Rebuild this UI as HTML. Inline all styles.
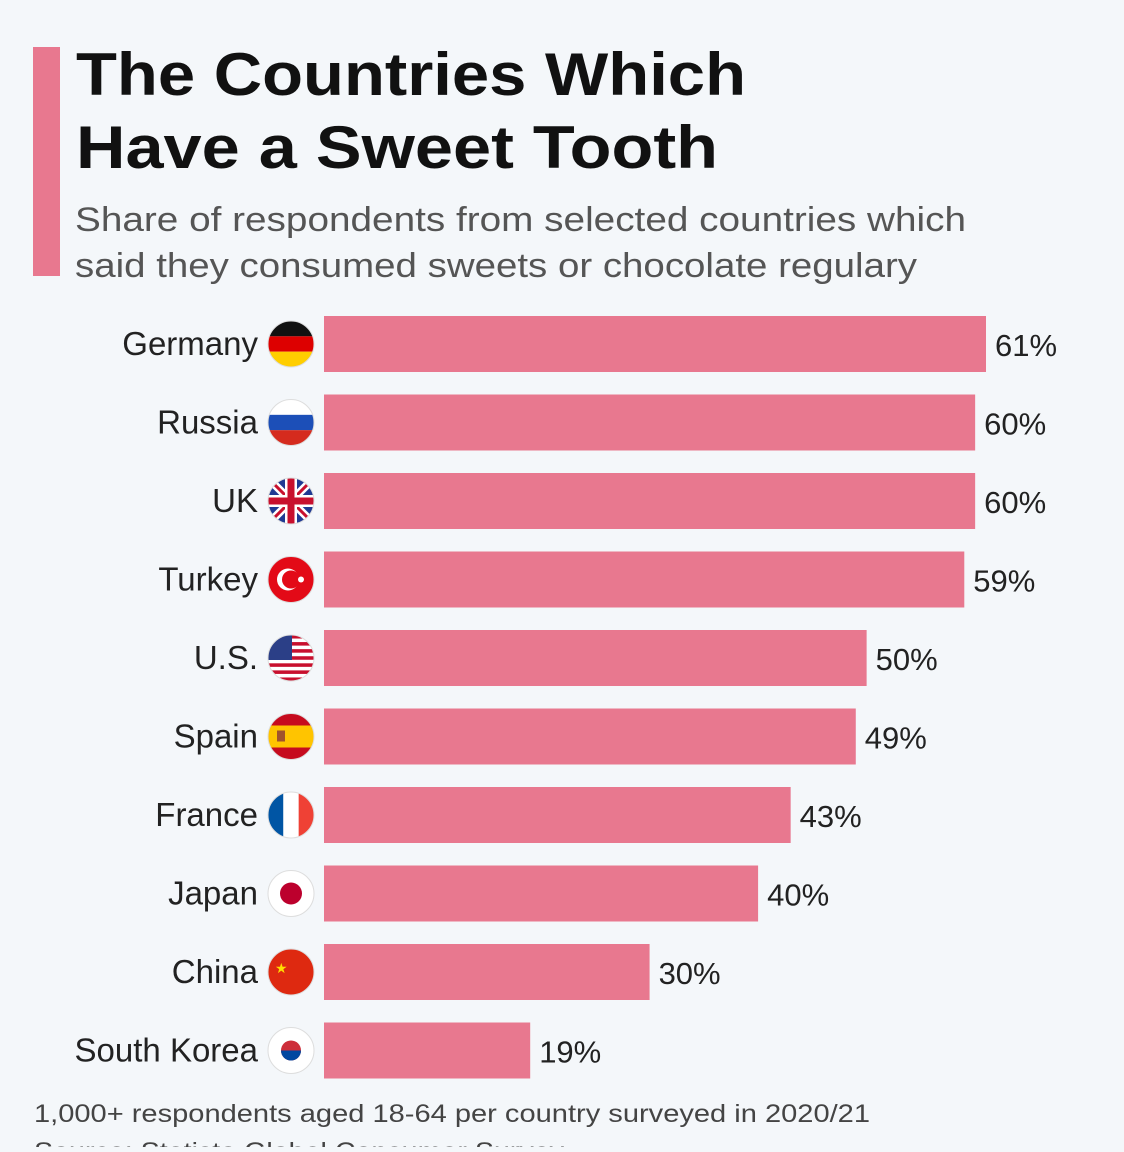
<!DOCTYPE html>
<html><head><meta charset="utf-8"><style>
body{margin:0;background:#f4f7fa;width:1124px;height:1147px;overflow:hidden;font-family:"Liberation Sans",sans-serif;}
</style></head><body>
<svg id="chart" width="1124" height="1147" xmlns="http://www.w3.org/2000/svg">
<rect x="0" y="0" width="1124" height="1147" fill="#f4f7fa"/>
<rect x="33" y="47" width="27" height="229" fill="#e8788f"/>
<text x="76" y="95" font-size="60" font-weight="bold" fill="#111" textLength="670" lengthAdjust="spacingAndGlyphs">The Countries Which</text>
<text x="76" y="168" font-size="60" font-weight="bold" fill="#111" textLength="642" lengthAdjust="spacingAndGlyphs">Have a Sweet Tooth</text>
<text x="75" y="231" font-size="34" fill="#555" textLength="891" lengthAdjust="spacingAndGlyphs">Share of respondents from selected countries which</text>
<text x="75" y="277" font-size="34" fill="#555" textLength="842" lengthAdjust="spacingAndGlyphs">said they consumed sweets or chocolate regulary</text>
<g id="bars"></g>
<text x="34" y="1122" font-size="25" fill="#444" textLength="836" lengthAdjust="spacingAndGlyphs">1,000+ respondents aged 18-64 per country surveyed in 2020/21</text>
<text x="34" y="1160" font-size="25" fill="#444" textLength="530" lengthAdjust="spacingAndGlyphs">Source: Statista Global Consumer Survey</text>
</svg>
<script>
const categories=["Germany","Russia","UK","Turkey","U.S.","Spain","France","Japan","China","South Korea"];
const values=[61,60,60,59,50,49,43,40,30,19];
const valueLabels=["61%","60%","60%","59%","50%","49%","43%","40%","30%","19%"];
const NS="http://www.w3.org/2000/svg";
const g=document.getElementById('bars');
const x0=324,pxPer=662/61,y0=316,step=78.5,bh=56;
function xs(v){return x0+v*pxPer;}
function ys(i){return y0+i*step;}
function mk(t,a,p){const e=document.createElementNS(NS,t);for(const k in a)e.setAttribute(k,a[k]);(p||g).appendChild(e);return e;}
const flags={
"Germany":(p,cx,cy)=>{const r=23;[["#111",0],["#dd0000",1],["#ffce00",2]].forEach(([c,k])=>mk('rect',{x:cx-r,y:cy-r+k*r*2/3,width:2*r,height:r*2/3,fill:c},p));},
"Russia":(p,cx,cy)=>{const r=23;[["#fff",0],["#1c4fb8",1],["#d52b1e",2]].forEach(([c,k])=>mk('rect',{x:cx-r,y:cy-r+k*r*2/3,width:2*r,height:r*2/3,fill:c},p));},
"UK":(p,cx,cy)=>{mk('rect',{x:cx-23,y:cy-23,width:46,height:46,fill:"#1f3a93"},p);mk('path',{d:`M${cx-23},${cy-23}L${cx+23},${cy+23}M${cx+23},${cy-23}L${cx-23},${cy+23}`,stroke:"#fff",'stroke-width':8},p);mk('path',{d:`M${cx-23},${cy-23}L${cx+23},${cy+23}M${cx+23},${cy-23}L${cx-23},${cy+23}`,stroke:"#c8102e",'stroke-width':3},p);mk('path',{d:`M${cx},${cy-23}V${cy+23}M${cx-23},${cy}H${cx+23}`,stroke:"#fff",'stroke-width':12},p);mk('path',{d:`M${cx},${cy-23}V${cy+23}M${cx-23},${cy}H${cx+23}`,stroke:"#c8102e",'stroke-width':7},p);},
"Turkey":(p,cx,cy)=>{mk('rect',{x:cx-23,y:cy-23,width:46,height:46,fill:"#e30a17"},p);mk('circle',{cx:cx-3,cy:cy,r:11,fill:"#fff"},p);mk('circle',{cx:cx,cy:cy,r:9,fill:"#e30a17"},p);mk('circle',{cx:cx+10,cy:cy,r:3,fill:"#fff"},p);},
"U.S.":(p,cx,cy)=>{mk('rect',{x:cx-23,y:cy-23,width:46,height:46,fill:"#fff"},p);for(let k=0;k<7;k++)mk('rect',{x:cx-23,y:cy-23+k*46/6.5,width:46,height:46/13,fill:"#c8102e"},p);mk('rect',{x:cx-23,y:cy-23,width:24,height:25,fill:"#2b3f87"},p);},
"Spain":(p,cx,cy)=>{mk('rect',{x:cx-23,y:cy-23,width:46,height:46,fill:"#c60b1e"},p);mk('rect',{x:cx-23,y:cy-11,width:46,height:22,fill:"#ffc400"},p);mk('rect',{x:cx-14,y:cy-6,width:8,height:11,fill:"#a0522d"},p);},
"France":(p,cx,cy)=>{[["#0055a4",0],["#fff",1],["#ef4135",2]].forEach(([c,k])=>mk('rect',{x:cx-23+k*46/3,y:cy-23,width:46/3,height:46,fill:c},p));},
"Japan":(p,cx,cy)=>{mk('rect',{x:cx-23,y:cy-23,width:46,height:46,fill:"#fff"},p);mk('circle',{cx:cx,cy:cy,r:11,fill:"#bc002d"},p);},
"China":(p,cx,cy)=>{mk('rect',{x:cx-23,y:cy-23,width:46,height:46,fill:"#de2910"},p);mk('text',{x:cx-16,y:cy+1,'font-size':14,fill:"#ffde00"},p).textContent="★";},
"South Korea":(p,cx,cy)=>{mk('rect',{x:cx-23,y:cy-23,width:46,height:46,fill:"#fff"},p);mk('circle',{cx:cx,cy:cy,r:10,fill:"#cd2e3a"},p);mk('path',{d:`M${cx-10},${cy}A10,10 0 0 0 ${cx+10},${cy}Z`,fill:"#0047a0"},p);}
};
categories.forEach((c,i)=>{
 const y=ys(i);
 const b=mk('rect',{x:x0,y:y,width:xs(values[i])-x0,height:bh,fill:"#e8788f"});
 
 
 const l=mk('text',{x:258,y:y+39,'text-anchor':'end','font-size':33,fill:"#222"});l.textContent=c;
 
 
 const v=mk('text',{x:xs(values[i])+9,y:y+40,'font-size':31,fill:"#222"});v.textContent=valueLabels[i];
 
 
 const fg=mk('g',{});
 
 
 const id='clip'+i;const cp=mk('clipPath',{id:id},fg);mk('circle',{cx:291,cy:y+28,r:23},cp);
 const inner=mk('g',{'clip-path':`url(#${id})`},fg);flags[c](inner,291,y+28);
 mk('circle',{cx:291,cy:y+28,r:23,fill:'none',stroke:'#ddd','stroke-width':1},fg);
});
</script>
</body></html>
